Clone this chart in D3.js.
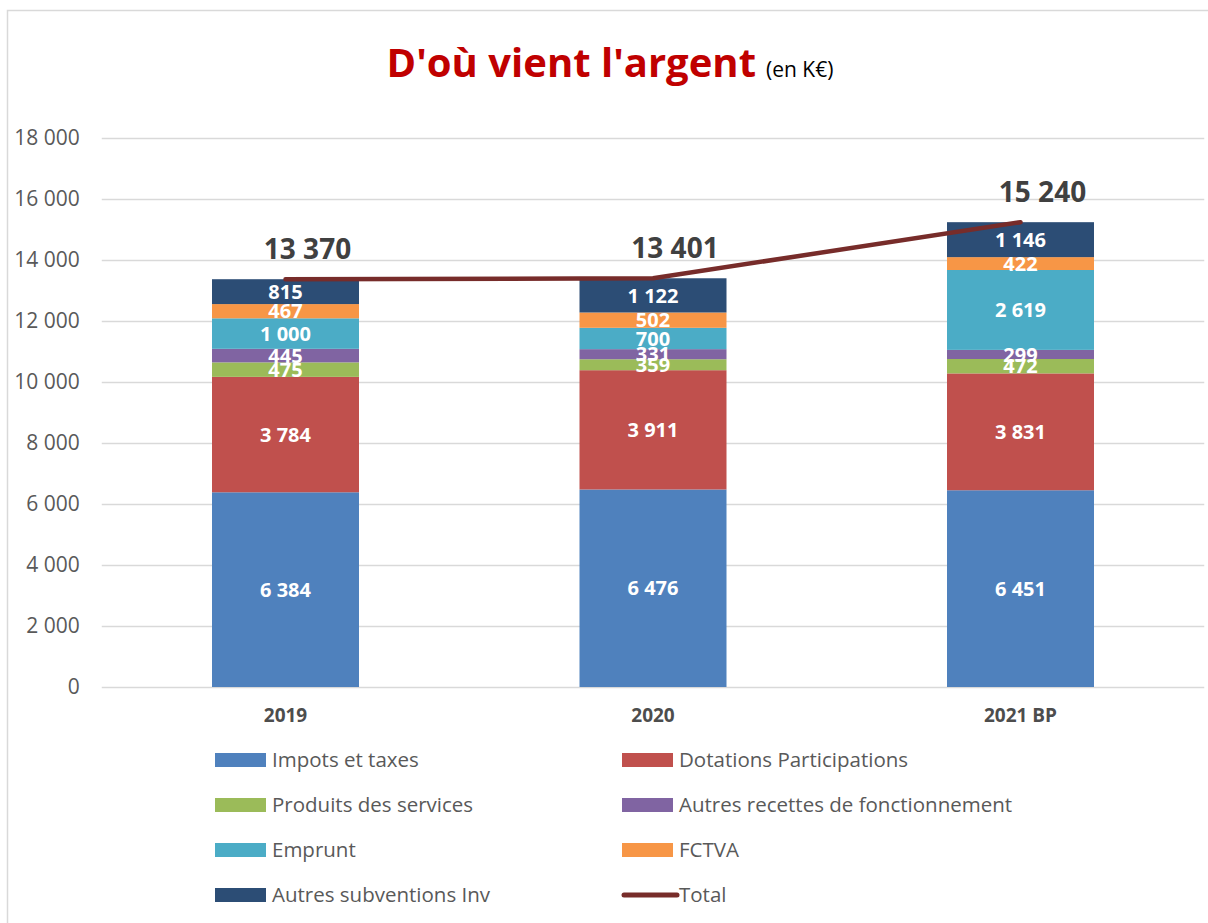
<!DOCTYPE html>
<html>
<head>
<meta charset="utf-8">
<script src="https://cdn.jsdelivr.net/npm/d3@7"></script>
<style>
    html, body { margin: 0; padding: 0; background: #fff; }
    svg { display: block; font-family: "Open Sans", sans-serif; }
</style>
</head>
<body>
<svg id="chart" width="1208" height="923"></svg>
<script>
/**
 * Data.
 */
const years = ['2019', '2020', '2021 BP'];
const seriesNames = ['Impots et taxes', 'Dotations Participations', 'Produits des services',
    'Autres recettes de fonctionnement', 'Emprunt', 'FCTVA', 'Autres subventions Inv'];
const impots = [6384, 6476, 6451];
const dotations = [3784, 3911, 3831];
const produits = [475, 359, 472];
const autresRecettes = [445, 331, 299];
const emprunt = [1000, 700, 2619];
const fctva = [467, 502, 422];
const autresSubv = [815, 1122, 1146];
const totals = [13370, 13401, 15240];
const yTicks = [0, 2000, 4000, 6000, 8000, 10000, 12000, 14000, 16000, 18000];

const seriesValues = [impots, dotations, produits, autresRecettes, emprunt, fctva, autresSubv];
const colors = ['#4F81BD', '#C0504D', '#9BBB59', '#8064A2', '#4BACC6', '#F79646', '#2C4D75'];
const lineColor = '#772C2A';

/**
 * Visual configs.
 */
const svg = d3.select('#chart');
const plot = { left: 101.75, right: 1204.25, top: 138, bottom: 687 };

const fmt = d3.formatLocale({ decimal: ',', thousands: '\u00a0', grouping: [3], currency: ['', ''] }).format(',d');

const xScale = d3.scaleBand().domain(years).range([plot.left, plot.right])
    .paddingInner(0.6).paddingOuter(0.3);
const yScale = d3.scaleLinear().domain([0, 18000]).range([plot.bottom, plot.top]);

// Chart frame
svg.append('rect')
    .attr('x', 7.5).attr('y', 10.5)
    .attr('width', 1240).attr('height', 960)
    .attr('fill', 'none').attr('stroke', '#d9d9d9').attr('stroke-width', 1.5);

// Title
const title = svg.append('text')
    .attr('x', 610).attr('y', 77)
    .attr('text-anchor', 'middle');
title.append('tspan')
    .attr('fill', '#C00000').attr('font-weight', 700).attr('font-size', 40)
    .text("D'où vient l'argent");
title.append('tspan')
    .attr('fill', '#000').attr('font-size', 21).attr('dx', 10)
    .text('(en K€)');

/**
 * Axes.
 */
const yAxis = d3.axisLeft(yScale).tickValues(yTicks).tickFormat(fmt)
    .tickSize(-(plot.right - plot.left)).tickPadding(22);
svg.append('g')
    .attr('class', 'y-axis')
    .attr('transform', 'translate(' + plot.left + ',0)')
    .call(yAxis)
    .call(g => g.select('.domain').remove())
    .call(g => g.selectAll('.tick line').attr('stroke', '#d9d9d9').attr('stroke-width', 1.5))
    .call(g => g.selectAll('.tick text')
        .attr('fill', '#595959').attr('font-size', 21).attr('font-family', '"Open Sans", sans-serif'));

const xAxis = d3.axisBottom(xScale).tickSize(0).tickPadding(22);
svg.append('g')
    .attr('class', 'x-axis')
    .attr('transform', 'translate(0,' + plot.bottom + ')')
    .call(xAxis)
    .call(g => g.select('.domain').remove())
    .call(g => g.selectAll('.tick text')
        .attr('fill', '#4d4d4d').attr('font-size', 19).attr('font-weight', 700)
        .attr('font-family', '"Open Sans", sans-serif'));

/**
 * Stacked bars.
 */
const rows = years.map((y, i) => {
    const row = { year: y };
    seriesNames.forEach((s, j) => { row[s] = seriesValues[j][i]; });
    return row;
});
const stacked = d3.stack().keys(seriesNames)(rows);

const layers = svg.append('g').attr('class', 'bars')
    .selectAll('g.layer').data(stacked)
    .enter().append('g')
        .attr('class', 'layer')
        .attr('fill', (d, i) => colors[i]);

layers.selectAll('rect').data(d => d)
    .enter().append('rect')
        .attr('x', d => xScale(d.data.year))
        .attr('width', xScale.bandwidth())
        .attr('y', d => yScale(d[1]))
        .attr('height', d => yScale(d[0]) - yScale(d[1]));

// Segment labels
const labels = svg.append('g').attr('class', 'labels');
stacked.forEach(layer => {
    labels.selectAll(null).data(layer)
        .enter().append('text')
            .attr('x', d => xScale(d.data.year) + xScale.bandwidth() / 2)
            .attr('y', d => yScale((d[0] + d[1]) / 2))
            .attr('dy', '0.36em')
            .attr('text-anchor', 'middle')
            .attr('fill', '#fff')
            .attr('font-size', 20)
            .attr('font-weight', 700)
            .text(d => fmt(d[1] - d[0]));
});

/**
 * Total line.
 */
const line = d3.line()
    .x((d, i) => xScale(years[i]) + xScale.bandwidth() / 2)
    .y(d => yScale(d));
svg.append('path')
    .datum(totals)
    .attr('d', line)
    .attr('fill', 'none')
    .attr('stroke', lineColor)
    .attr('stroke-width', 4.5)
    .attr('stroke-linecap', 'round')
    .attr('stroke-linejoin', 'round');

svg.append('g').attr('class', 'totals')
    .selectAll('text').data(totals)
    .enter().append('text')
        .attr('x', (d, i) => xScale(years[i]) + xScale.bandwidth() / 2 + 22)
        .attr('y', d => yScale(d) - 20)
        .attr('text-anchor', 'middle')
        .attr('fill', '#404040')
        .attr('font-size', 28)
        .attr('font-weight', 700)
        .text(fmt);

/**
 * Legend.
 */
const legendItems = seriesNames.map((s, i) => ({ name: s, color: colors[i], type: 'rect' }))
    .concat([{ name: 'Total', color: lineColor, type: 'line' }]);

const legend = svg.append('g').attr('class', 'legend')
    .selectAll('g').data(legendItems)
    .enter().append('g')
        .attr('transform', (d, i) => 'translate(' + (i % 2 ? 622 : 215) + ',' + (760 + Math.floor(i / 2) * 45) + ')');

legend.filter(d => d.type === 'rect').append('rect')
    .attr('x', 0).attr('y', -7).attr('width', 51).attr('height', 14)
    .attr('fill', d => d.color);
legend.filter(d => d.type === 'line').append('line')
    .attr('x1', 2).attr('x2', 55).attr('y1', 0).attr('y2', 0)
    .attr('stroke', d => d.color).attr('stroke-width', 5).attr('stroke-linecap', 'round');
legend.append('text')
    .attr('x', 57)
    .attr('dy', '0.36em')
    .attr('fill', '#595959')
    .attr('font-size', 20.5)
    .text(d => d.name);
</script>
</body>
</html>
